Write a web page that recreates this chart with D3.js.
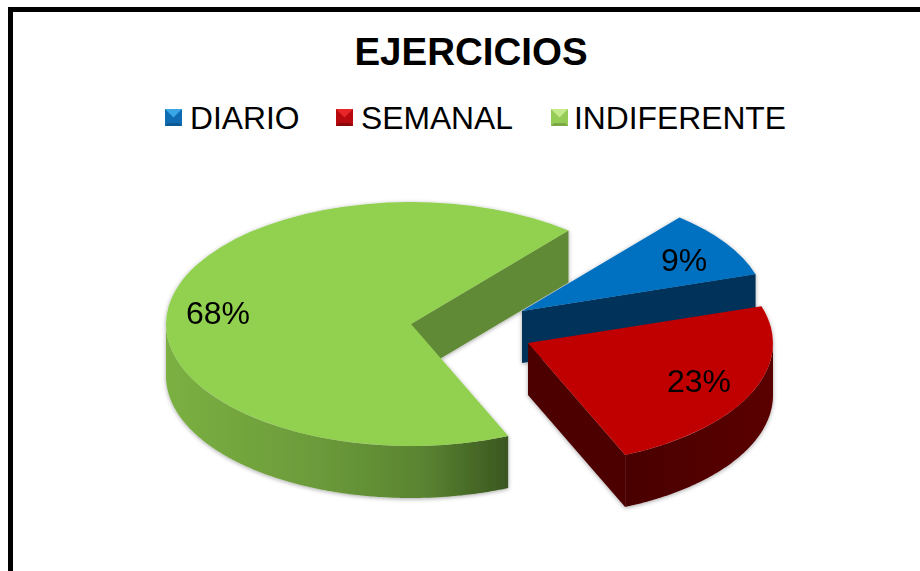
<html>
<head>
<meta charset="utf-8">
<title>Ejercicios</title>
<script src="https://d3js.org/d3.v7.min.js"></script>
<style>
body { margin: 0; background: white; overflow: hidden; }
text { font-family: "Liberation Sans", Arial, sans-serif; fill: black; }
</style>
</head>
<body>
<script>
// chart data
var categories = ["DIARIO", "SEMANAL", "INDIFERENTE"];
var values = [9, 23.4, 67.6];
var labels = ["9%", "23%", "68%"];

// colours, one per category
var topColors = ["#0070c0", "#c00000", "#92d050"];
var edgeColors = ["#03315a", "#4d0000", "#618a34"];
var boxColors = ["#0f6cb2", "#b80a0e", "#94cc55"];
var boxLight = ["#3aa6e6", "#e8262a", "#c4ea8c"];
var boxDark = ["#0b5a96", "#8c0709", "#7ba844"];

// layout
var width = 920, height = 571;
var rx = 245, ry = 122, depth = 52;
var centers = [[522, 311], [528, 343], [411, 324]];
var labelPos = [[684, 271], [699, 392], [218, 324]];
var legendBox = [165, 336, 551];
var legendText = [190, 361, 574];
var drawOrder = [2, 0, 1];

var svg = d3.select("body").append("svg")
  .attr("width", width)
  .attr("height", height);

var defs = svg.append("defs");
var shadow = defs.append("filter").attr("id", "shadow")
  .attr("x", "-10%").attr("y", "-10%").attr("width", "120%").attr("height", "120%");
shadow.append("feDropShadow")
  .attr("dx", 0).attr("dy", 1).attr("stdDeviation", 2)
  .attr("flood-color", "#000").attr("flood-opacity", 0.35);

// side wall colours: green fades left to right, red and blue stay close to flat
var wallStops = [
  [["0%", "#03315a"], ["100%", "#03315a"]],
  [["0%", "#4a0000"], ["100%", "#5a0000"]],
  [["0%", "#7bb042"], ["45%", "#6b9a3a"], ["75%", "#5a8431"], ["100%", "#3a5720"]]
];
wallStops.forEach(function(stops, i) {
  var g = defs.append("linearGradient").attr("id", "wall" + i);
  stops.forEach(function(s) {
    g.append("stop").attr("offset", s[0]).attr("stop-color", s[1]);
  });
});

// frame, it runs off the right and bottom of the picture
svg.append("rect")
  .attr("x", 10.5).attr("y", 9.5)
  .attr("width", width + 40).attr("height", height + 40)
  .attr("fill", "white")
  .attr("stroke", "black")
  .attr("stroke-width", 5);

// title
svg.append("text")
  .attr("x", 471).attr("y", 65)
  .attr("text-anchor", "middle")
  .attr("font-size", 38.5)
  .attr("font-weight", "bold")
  .text("EJERCICIOS");

// legend
var legend = svg.selectAll("g.legend")
  .data(categories)
  .enter().append("g")
  .attr("class", "legend")
  .attr("transform", function(d, i) { return "translate(" + legendBox[i] + ",109)"; });

var s = 17, m = s / 2;
legend.append("rect")
  .attr("width", s).attr("height", s)
  .attr("fill", function(d, i) { return boxColors[i]; });
legend.append("polygon")
  .attr("points", [[0, 0], [s, 0], [m, m]].join(" "))
  .attr("fill", function(d, i) { return boxLight[i]; });
legend.append("polygon")
  .attr("points", [[0, s], [s, s], [s - 3, s - 3], [3, s - 3]].join(" "))
  .attr("fill", function(d, i) { return boxDark[i]; });

svg.selectAll("text.legendLabel")
  .data(categories)
  .enter().append("text")
  .attr("class", "legendLabel")
  .attr("x", function(d, i) { return legendText[i]; })
  .attr("y", 129)
  .attr("font-size", 31.8)
  .text(function(d) { return d; });

// pie angles, first slice begins 40 degrees round from the top
var first = 40 * Math.PI / 180;
var pie = d3.pie().sort(null).startAngle(first).endAngle(first + 2 * Math.PI);
var slices = pie(values);

var arc = d3.arc().innerRadius(0).outerRadius(1);
var line = d3.line();

function rim(c, a, dy) {
  return [c[0] + rx * Math.sin(a), c[1] - ry * Math.cos(a) + dy];
}

function outerWall(c, a0, a1) {
  // only the front half of the rim can be seen
  var from = Math.max(a0, Math.PI / 2);
  var to = Math.min(a1, 3 * Math.PI / 2);
  if (from >= to) return null;
  var angles = d3.range(from, to, 0.01).concat([to]);
  var upper = angles.map(function(a) { return rim(c, a, 0); });
  var lower = angles.slice().reverse().map(function(a) { return rim(c, a, depth); });
  return line(upper.concat(lower)) + "Z";
}

function endWall(c, a) {
  var p = rim(c, a, 0), q = rim(c, a, depth);
  return line([c, p, q, [c[0], c[1] + depth]]) + "Z";
}

var pieGroup = svg.append("g").attr("filter", "url(#shadow)");

drawOrder.forEach(function(i) {
  var d = slices[i], c = centers[i];
  var g = pieGroup.append("g");

  g.append("path")
    .attr("d", endWall(c, d.endAngle))
    .attr("fill", edgeColors[i]);

  var wall = outerWall(c, d.startAngle, d.endAngle);
  if (wall) {
    g.append("path")
      .attr("d", wall)
      .attr("fill", "url(#wall" + i + ")");
  }

  g.append("path")
    .attr("d", arc(d))
    .attr("transform", "translate(" + c[0] + "," + c[1] + ") scale(" + rx + "," + ry + ")")
    .attr("fill", topColors[i]);
});

// data labels
svg.selectAll("text.value")
  .data(labels)
  .enter().append("text")
  .attr("class", "value")
  .attr("x", function(d, i) { return labelPos[i][0]; })
  .attr("y", function(d, i) { return labelPos[i][1]; })
  .attr("text-anchor", "middle")
  .attr("font-size", 32)
  .text(function(d) { return d; });
</script>
</body>
</html>
